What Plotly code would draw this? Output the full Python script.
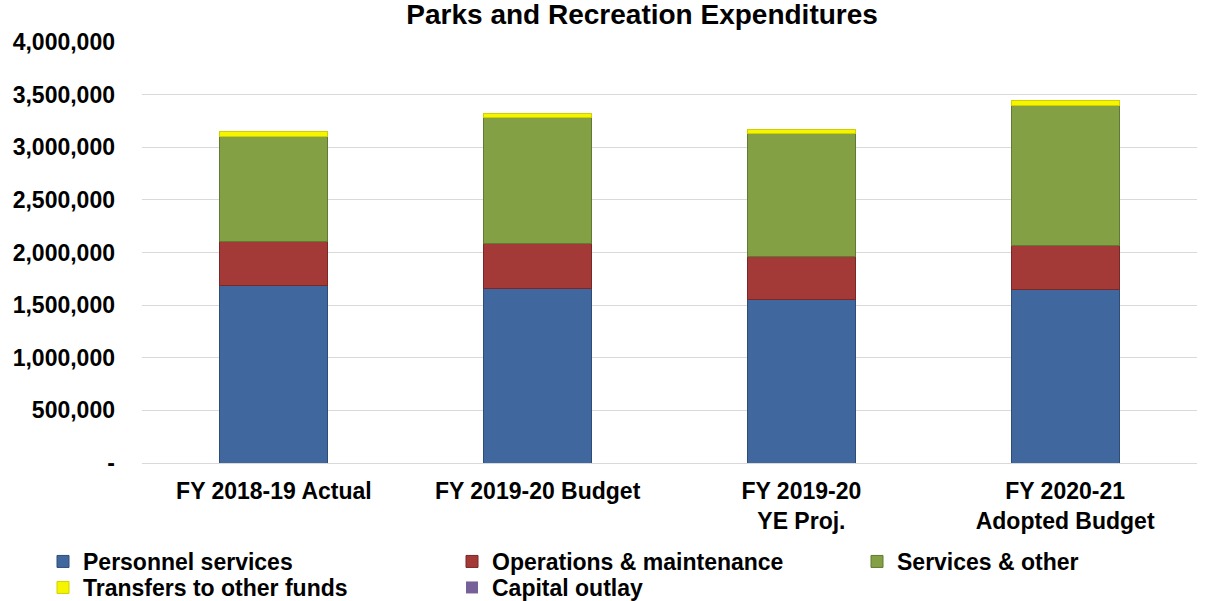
import plotly.graph_objects as go

categories = ["FY 2018-19 Actual", "FY 2019-20 Budget", "FY 2019-20<br>YE Proj.", "FY 2020-21<br>Adopted Budget"]
personnel = [1682000, 1660000, 1549000, 1650000]
operations = [421000, 427000, 411000, 421000]
services = [997000, 1194000, 1172000, 1321000]
transfers = [48000, 41000, 38000, 50000]
capital = [0, 0, 0, 0]

series_names = ["Personnel services", "Operations & maintenance", "Services & other",
                "Transfers to other funds", "Capital outlay"]
series_values = [personnel, operations, services, transfers, capital]

y_tickvals = [0, 500000, 1000000, 1500000, 2000000, 2500000, 3000000, 3500000, 4000000]
y_ticktext = ["-", "500,000", "1,000,000", "1,500,000", "2,000,000", "2,500,000",
              "3,000,000", "3,500,000", "4,000,000"]

# styling
series_colors = ["#41689E", "#A33A37", "#83A045", "#F5F500", "#76609A"]
series_lines = ["#2E4D76", "#7A2826", "#617A31", "#D0D000", "#564473"]
series_line_w = [1, 1, 1, 1, 0]
series_legend = ["legend", "legend2", "legend3", "legend4", "legend5"]
# legend entry placement (left px, top px) per series
legend_pos = [(43, 540), (452, 540), (857, 540), (43, 566), (452, 566)]

FONT = "Liberation Sans, Arial, sans-serif"
BOLD = dict(family=FONT, size=23, color="black", weight="bold")
W, H = 1207, 601

fig = go.Figure()
for name, vals, col, lc, lw, lg in zip(series_names, series_values, series_colors,
                                       series_lines, series_line_w, series_legend):
    fig.add_trace(go.Bar(
        x=categories, y=vals, name=name, legend=lg, showlegend=True,
        marker=dict(color=col, line=dict(color=lc, width=lw)),
    ))


def legend_at(left_px, top_px):
    return dict(
        orientation="v",
        x=left_px / W, xanchor="left", xref="container",
        y=1 - top_px / H, yanchor="top", yref="container",
        traceorder="normal",
        font=BOLD,
        bgcolor="rgba(0,0,0,0)",
        tracegroupgap=0,
        visible=True,
    )


legends = {lg: legend_at(*pos) for lg, pos in zip(series_legend, legend_pos)}

fig.update_layout(
    showlegend=True,
    barmode="stack",
    bargap=0.59,
    width=W, height=H,
    margin=dict(l=142, r=10, t=42, b=138, autoexpand=False),
    paper_bgcolor="white", plot_bgcolor="white",
    font=BOLD,
    title=dict(text="<b>Parks and Recreation Expenditures</b>",
               x=0.532, xref="container", xanchor="center",
               y=1 - 14 / H, yref="container", yanchor="middle",
               pad=dict(t=0, b=0),
               font=dict(family=FONT, size=28, color="black", weight="bold")),
    xaxis=dict(
        tickfont=BOLD,
        showgrid=False, showline=False, ticks="",
        ticklabelstandoff=12,
        automargin=False,
    ),
    yaxis=dict(
        range=[0, 4000000],
        tickvals=y_tickvals, ticktext=y_ticktext,
        tickfont=BOLD,
        showgrid=True, gridcolor="#D9D9D9", gridwidth=1,
        zeroline=True, zerolinecolor="#D9D9D9", zerolinewidth=1,
        showline=False, ticks="",
        ticklabelstandoff=26,
        automargin=False,
    ),
    **legends,
)

fig.write_html("out.html",
               config={"displayModeBar": False},
               post_script="document.body.style.margin='0';document.body.style.overflow='hidden';")
